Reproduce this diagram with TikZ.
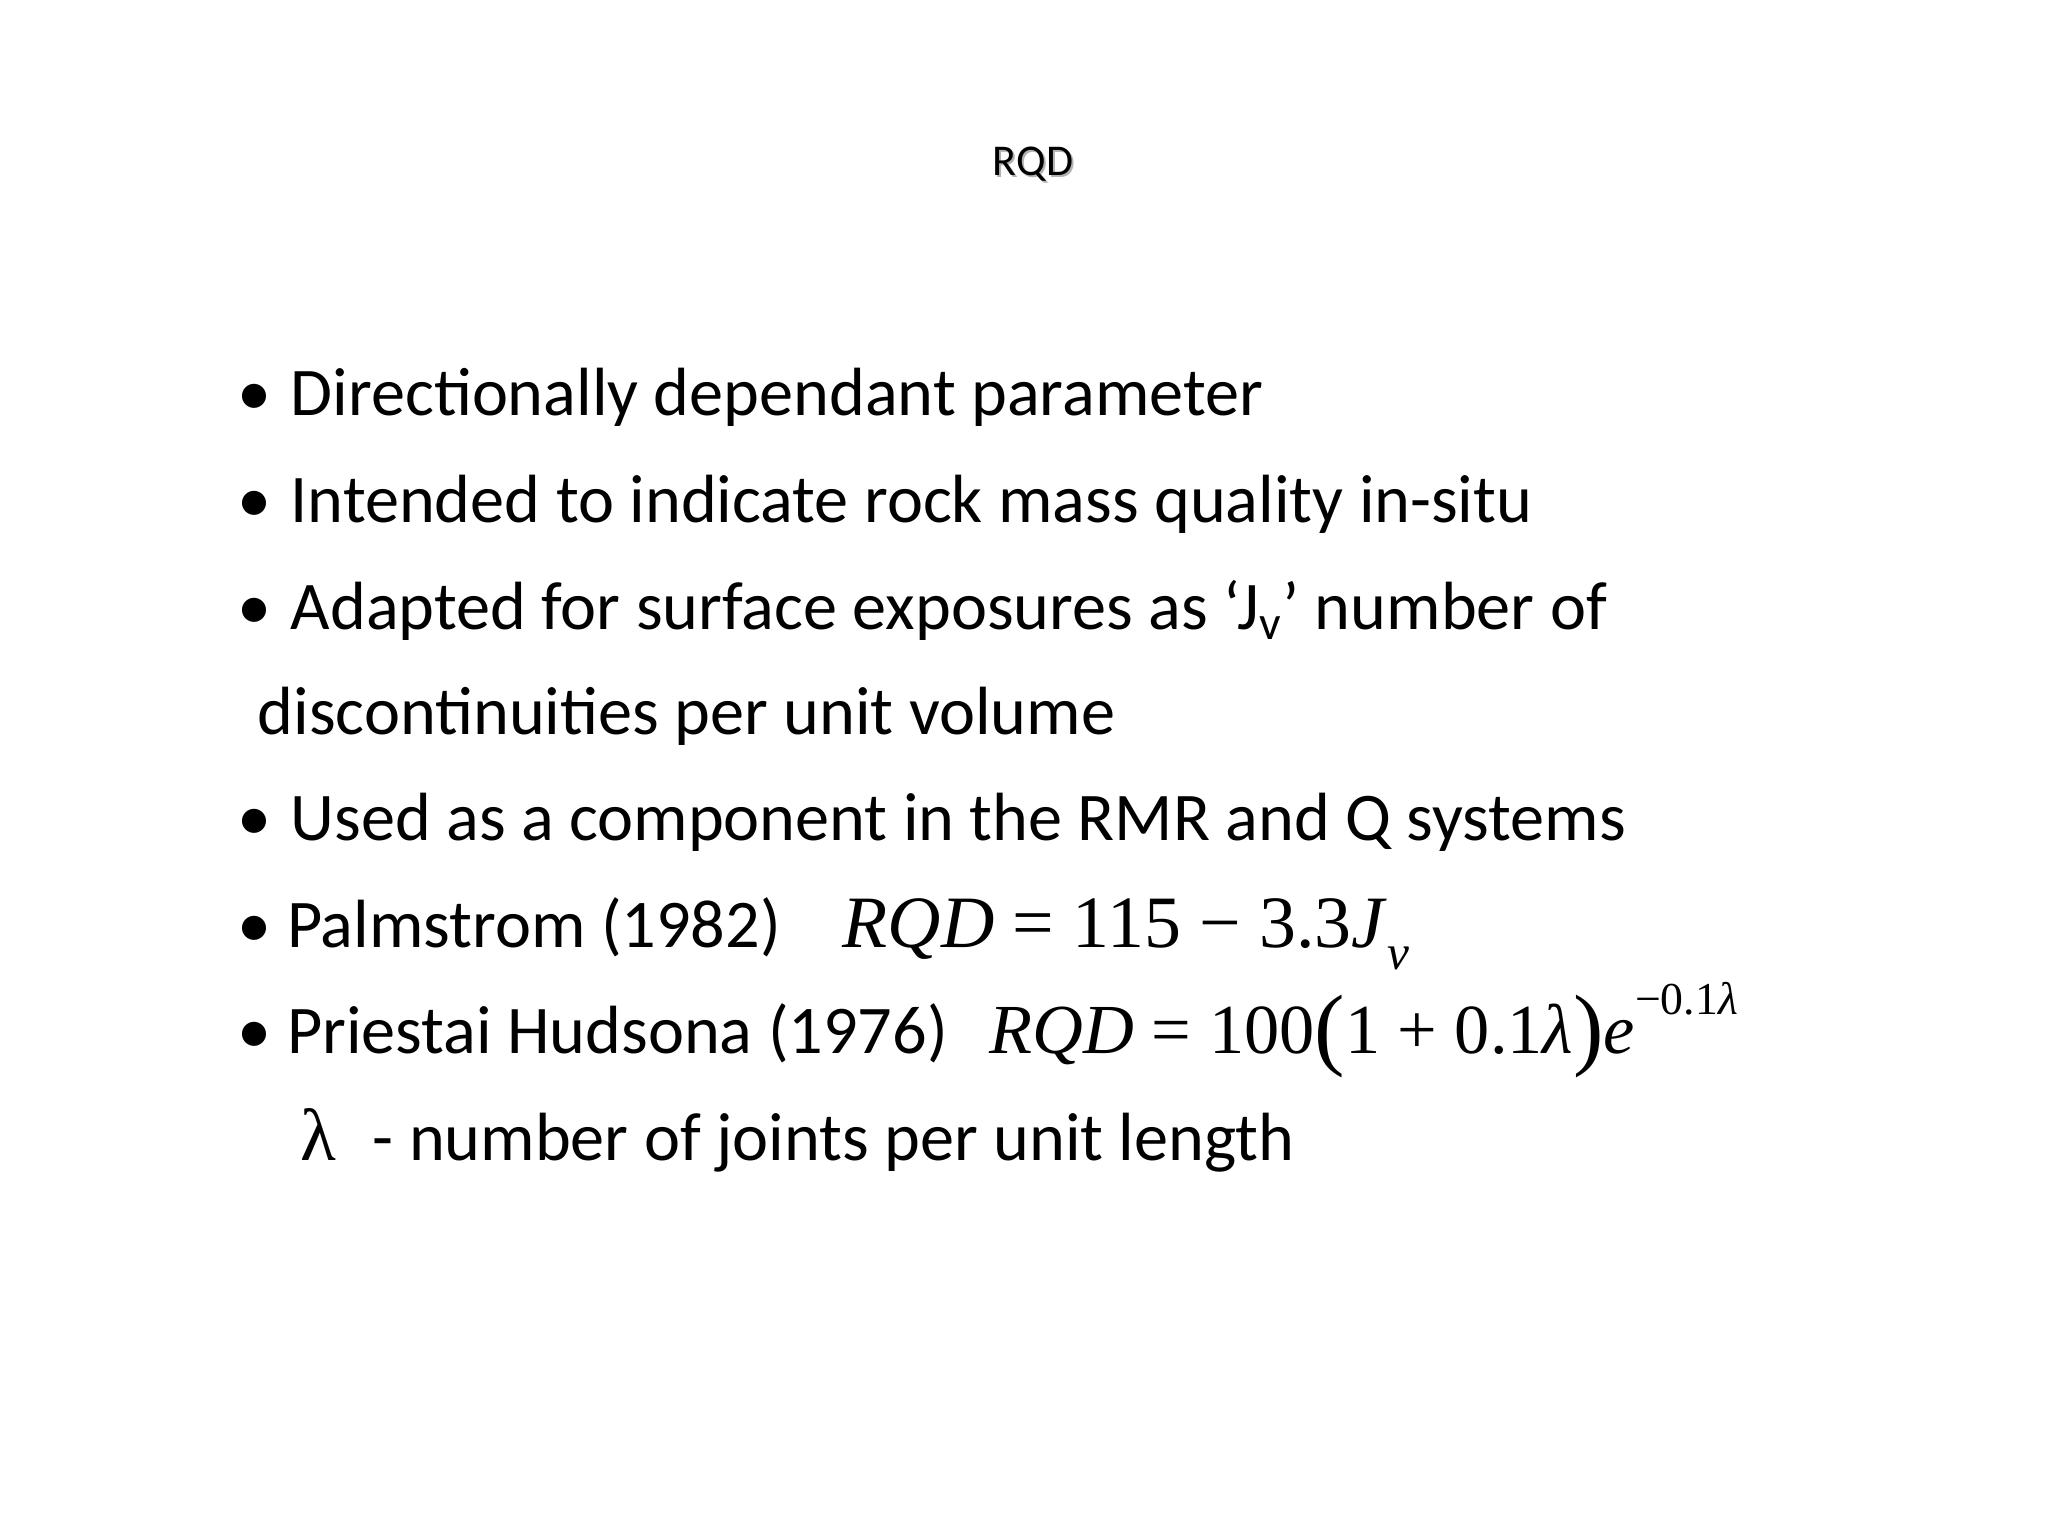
\documentclass[tikz,border=0pt]{standalone}
\usepackage{fontspec}
\setmainfont{Carlito}
\newfontfamily\tms{Liberation Serif}
\begin{document}
\begin{tikzpicture}[x=0.01cm,y=-0.01cm,
  txt/.style={anchor=base west,inner sep=0,font=\fontsize{19.4pt}{24pt}\selectfont},
  eq/.style={anchor=base west,inner sep=0,font=\tms\fontsize{21pt}{25pt}\selectfont}]
\useasboundingbox (0,0) rectangle (2048,1536);
\node[anchor=base,inner sep=0,font=\fontsize{12.5pt}{15pt}\selectfont,text=gray!60] at (1035,177) {RQD};
\node[anchor=base,inner sep=0,font=\fontsize{12.5pt}{15pt}\selectfont] (title) at (1033,175) {RQD};
\foreach \y/\n in {415/a,522/b,629/c,840/d}{\node[txt] (b\n) at (237,\y) {•};}
\node[txt] (l1) at (290,415) {Directionally dependant parameter};
\node[txt] (l2) at (290,522) {Intended to indicate rock mass quality in-situ};
\node[txt] (l3) at (290,629) {Adapted for surface exposures as ‘J\textsubscript{v}’ number of};
\node[txt] (l4) at (257,734) {discontinuities per unit volume};
\node[txt] (l5) at (290,840) {Used as a component in the RMR and Q systems};
\node[txt] (l6) at (237,947) {• Palmstrom (1982)};
\node[eq] (e1) at (842,947) {\textit{RQD} = 115 − 3.3\textit{J}\raisebox{-0.3em}{\fontsize{14pt}{16pt}\selectfont\textit{v}}};
\node[txt] (l7) at (237,1053) {• Priestai Hudsona (1976)};
\node[eq,font=\tms\fontsize{20pt}{24pt}\selectfont] (e2) at (989,1053) {\textit{RQD} = 100\raisebox{-0.08em}{\fontsize{26pt}{30pt}\selectfont(}1 + 0.1\textit{λ}\raisebox{-0.08em}{\fontsize{26pt}{30pt}\selectfont)}\textit{e}\raisebox{0.55em}{\fontsize{13pt}{16pt}\selectfont−0.1\textit{λ}}};
\node[eq] (lam) at (300,1160) {λ};
\node[txt] (l8) at (372,1160) {- number of joints per unit length};
\end{tikzpicture}
\end{document}
